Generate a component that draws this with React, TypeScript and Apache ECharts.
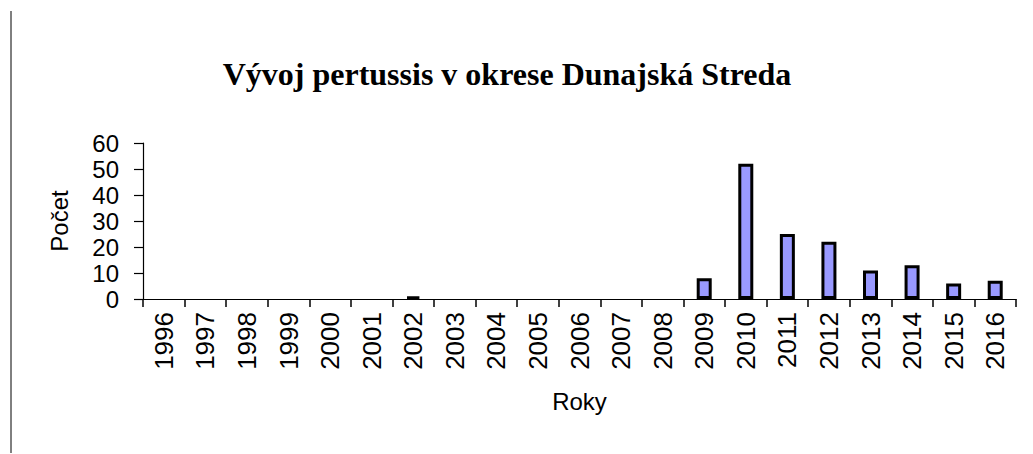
import React, { useEffect, useRef } from "react";
import * as echarts from "echarts";

const years = ["1996","1997","1998","1999","2000","2001","2002","2003","2004","2005","2006","2007","2008","2009","2010","2011","2012","2013","2014","2015","2016"];
const counts = [0,0,0,0,0,0,1,0,0,0,0,0,0,8,52,25,22,11,13,6,7];
const yTicks = [0, 10, 20, 30, 40, 50, 60];
const titleText = "Vývoj pertussis v okrese Dunajská Streda";

export default function App() {
  const ref = useRef<HTMLDivElement>(null);
  useEffect(() => {
    const chart = echarts.init(ref.current!, undefined, { renderer: "svg" });
    chart.setOption({
      animation: false,
      backgroundColor: "#ffffff",
      title: {
        text: titleText,
        left: 502,
        textAlign: "center",
        top: 53,
        textStyle: { fontFamily: "Liberation Serif", fontWeight: "bold", fontSize: 32, color: "#000" },
      },
      grid: { left: 143, right: 17, top: 143, bottom: 155 },
      xAxis: {
        type: "category",
        data: years,
        name: "Roky",
        nameLocation: "middle",
        nameGap: 90,
        nameTextStyle: { fontFamily: "Liberation Sans", fontSize: 24, color: "#000" },
        axisLine: { lineStyle: { color: "#000", width: 1.2 } },
        axisTick: { show: true, length: 8, alignWithLabel: false, lineStyle: { color: "#000", width: 1.5 } },
        axisLabel: { rotate: 90, margin: 13, fontFamily: "Liberation Sans", fontSize: 26, color: "#000", interval: 0 },
        splitLine: { show: false },
      },
      yAxis: {
        type: "value",
        min: 0,
        max: yTicks[yTicks.length - 1],
        interval: 10,
        name: "Počet",
        nameLocation: "middle",
        nameGap: 72,
        nameRotate: 90,
        nameTextStyle: { fontFamily: "Liberation Sans", fontSize: 24, color: "#000" },
        axisLine: { show: true, lineStyle: { color: "#000", width: 1.2 } },
        axisTick: { show: true, length: 9, lineStyle: { color: "#000", width: 1.2 } },
        axisLabel: { margin: 24, fontFamily: "Liberation Sans", fontSize: 24, color: "#000" },
        splitLine: { show: false },
      },
      series: [
        {
          type: "bar",
          data: counts.map((v) => (v === 0 ? null : v)),
          barWidth: 15,
          itemStyle: { color: "#9999FF", borderColor: "#000", borderWidth: 3 },
        },
      ],
      graphic: [
        { type: "line", shape: { x1: 11, y1: 11, x2: 11, y2: 453 }, style: { stroke: "#000", lineWidth: 1 } },
      ],
    });
    return () => chart.dispose();
  }, []);
  return <div ref={ref} style={{ position: "fixed", left: 0, top: 0, width: 1033, height: 454 }} />;
}
